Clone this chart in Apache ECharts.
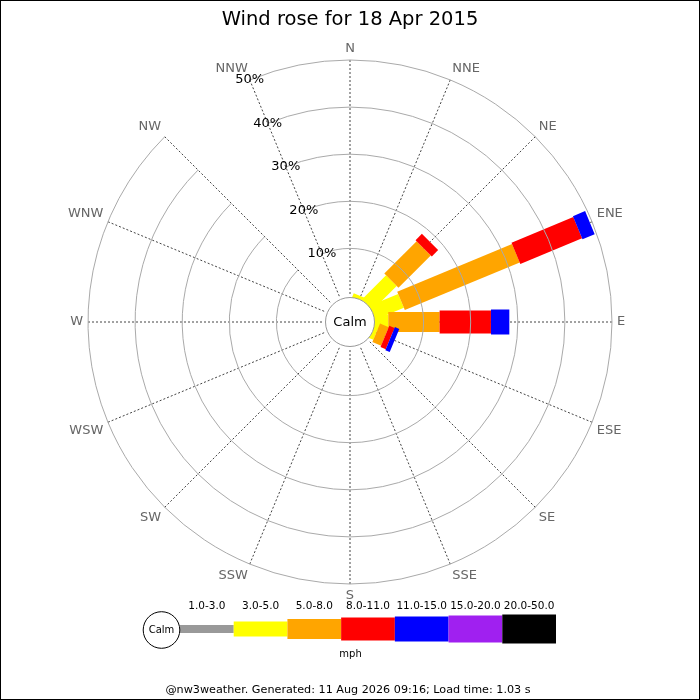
<!DOCTYPE html>
<html><head><meta charset="utf-8">
<script src="https://cdn.jsdelivr.net/npm/echarts@6/dist/echarts.min.js"></script>
<style>
html,body{margin:0;padding:0;background:#fff}
#wrap{position:relative;width:700px;height:700px}
#c{width:700px;height:700px}
#frame{position:absolute;left:0;top:0;width:700px;height:700px;box-sizing:border-box;border:1px solid #000;pointer-events:none}
</style>
</head><body><div id="wrap"><div id="c"></div><div id="frame"></div></div>
<script>
// Directions (compass order, starting at N)
const directions = ['N','NNE','NE','ENE','E','ESE','SE','SSE','S','SSW','SW','WSW','W','WNW','NW','NNW'];
// Speed classes (mph)
const speedClasses = ['1.0-3.0','3.0-5.0','5.0-8.0','8.0-11.0','11.0-15.0','15.0-20.0','20.0-50.0'];
// Percent of time per direction for each speed class
//              N   NNE  NE   ENE   E    ESE  SE SSE S SSW SW WSW W WNW NW NNW
const s1to3   = [0,  0,   0,   0,    0,   0,   0, 0,  0, 0,  0, 0,  0, 0,  0, 0];
const s3to5   = [0,  0.3, 6.8, 6.1,  2.5, 0.4, 0, 0,  0, 0,  0, 0,  0, 0,  0, 0];
const s5to8   = [0,  0,   9.7, 26.4, 10.9,2.0, 0, 0,  0, 0,  0, 0,  0, 0,  0, 0];
const s8to11  = [0,  0,   1.9, 14.2, 10.9,1.2, 0, 0,  0, 0,  0, 0,  0, 0,  0, 0];
const s11to15 = [0,  0,   0,   2.8,  3.9, 1.0, 0, 0,  0, 0,  0, 0,  0, 0,  0, 0];
const s15to20 = [0,  0,   0,   0,    0,   0,   0, 0,  0, 0,  0, 0,  0, 0,  0, 0];
const s20to50 = [0,  0,   0,   0,    0,   0,   0, 0,  0, 0,  0, 0,  0, 0,  0, 0];
// Radial tick values
const radialTicks = [10, 20, 30, 40, 50];

const classSeries = [s1to3, s3to5, s5to8, s8to11, s11to15, s15to20, s20to50];
const classColors = ['#999999','#ffff00','#ffa500','#ff0000','#0000ff','#a020f0','#000000'];
const classWidths = [8, 15, 20, 23, 25, 27, 29];
const FONT = 'DejaVu Sans';

// angle axis starts at NNW so the radial labels run along the NNW spoke
const angleData = [directions[15]].concat(directions.slice(0, 15));
const angleIndexOf = d => (d + 1) % 16;

function roseItem(params, api) {
  const cs = params.coordSys;
  const cx = cs.cx, cy = cs.cy;
  const di = params.dataIndex;
  const ang = angleIndexOf(di);
  const ref = api.coord([50, ang]);
  let ux = ref[0] - cx, uy = ref[1] - cy;
  const L = Math.hypot(ux, uy); ux /= L; uy /= L;
  const nx = -uy, ny = ux;
  const children = [];
  let cum = 0, r0 = 0;
  for (let k = 0; k < classSeries.length; k++) {
    const v = classSeries[k][di];
    if (!v) continue;
    cum += v;
    const p = api.coord([cum, ang]);
    const r1 = Math.hypot(p[0] - cx, p[1] - cy);
    const h = classWidths[k] / 2;
    children.push({
      type: 'polygon',
      shape: { points: [
        [cx + ux * r0 + nx * h, cy + uy * r0 + ny * h],
        [cx + ux * r1 + nx * h, cy + uy * r1 + ny * h],
        [cx + ux * r1 - nx * h, cy + uy * r1 - ny * h],
        [cx + ux * r0 - nx * h, cy + uy * r0 - ny * h]
      ]},
      style: { fill: classColors[k], stroke: null }
    });
    r0 = r1;
  }
  return { type: 'group', children };
}

function calmItem(params, api) {
  const cs = params.coordSys;
  return { type: 'group', children: [
    { type: 'circle', shape: { cx: cs.cx, cy: cs.cy, r: 24.5 },
      style: { fill: '#fff', stroke: '#999', lineWidth: 1 } },
    { type: 'text', x: cs.cx, y: cs.cy + 0.5,
      style: { text: 'Calm', fontSize: 13, fontFamily: FONT, fill: '#000',
               align: 'center', verticalAlign: 'middle' } }
  ]};
}

function legendItem(params, api) {
  const i = params.dataIndex;
  const p = api.coord([i, 0.5]);
  const bw = api.size([1, 0])[0];
  const w = classWidths[i];
  const children = [
    { type: 'rect', shape: { x: p[0] - bw / 2, y: p[1] - w / 2, width: bw, height: w },
      style: { fill: classColors[i] } },
    { type: 'text', x: p[0], y: p[1] - 22.5,
      style: { text: speedClasses[i], fontSize: 10.5, fontFamily: FONT, fill: '#000',
               align: 'center', verticalAlign: 'middle' } }
  ];
  if (i === 0) {
    const ccx = p[0] - bw / 2 - 18.5;
    children.push(
      { type: 'circle', shape: { cx: ccx, cy: p[1] + 1, r: 18.3 },
        style: { fill: '#fff', stroke: '#000', lineWidth: 1 } },
      { type: 'text', x: ccx, y: p[1] + 1,
        style: { text: 'Calm', fontSize: 10, fontFamily: FONT, fill: '#000',
                 align: 'center', verticalAlign: 'middle' } }
    );
  }
  return { type: 'group', children };
}

const chart = echarts.init(document.getElementById('c'), null, { renderer: 'canvas' });
chart.setOption({
  animation: false,
  backgroundColor: '#fff',
  textStyle: { fontFamily: FONT },
  title: {
    text: 'Wind rose for 18 Apr 2015', left: 'center', top: 5,
    textStyle: { fontFamily: FONT, fontSize: 19.5, fontWeight: 'normal', color: '#000' }
  },
  polar: { center: [350, 322], radius: [26.5, 262] },
  angleAxis: {
    type: 'category', data: angleData, boundaryGap: false,
    startAngle: 112.5, clockwise: true,
    axisLine: { show: false },
    axisTick: { show: false },
    axisLabel: { color: '#666', fontSize: 13, fontFamily: FONT, margin: 5 },
    splitLine: { show: true, lineStyle: { color: '#444', width: 1, type: [2, 2] } },
    z: 1
  },
  radiusAxis: {
    type: 'value', min: 0, max: radialTicks[radialTicks.length - 1], interval: 10,
    axisLine: { show: false }, axisTick: { show: false },
    axisLabel: {
      formatter: v => (radialTicks.indexOf(v) >= 0 ? v + '%' : ''),
      color: '#000', fontSize: 13, fontFamily: FONT, margin: 0,
      align: 'center', verticalAlign: 'middle'
    },
    splitLine: { show: true, lineStyle: {
      color: ['rgba(0,0,0,0)', '#aaa', '#aaa', '#aaa', '#aaa', '#aaa'], width: 1 } },
    z: 5
  },
  grid: { left: 180, width: 376, top: 600, height: 58 },
  xAxis: { type: 'category', data: speedClasses, show: false },
  yAxis: { type: 'value', min: 0, max: 1, show: false },
  graphic: [
    { type: 'text', x: 350.5, y: 654, style: { text: 'mph', fontSize: 10, fontFamily: FONT, fill: '#000', align: 'center', verticalAlign: 'middle' } },
    { type: 'text', x: 348, y: 690, style: { text: '@nw3weather. Generated: 11 Aug 2026 09:16; Load time: 1.03 s', fontSize: 11.2, fontFamily: FONT, fill: '#000', align: 'center', verticalAlign: 'middle' } }
  ],
  series: [
    {
      type: 'custom', coordinateSystem: 'polar', polarIndex: 0,
      renderItem: roseItem,
      encode: { radius: 0, angle: 1 },
      data: directions.map((d, i) => [0, angleIndexOf(i)]),
      z: 2, silent: true
    },
    {
      type: 'custom', coordinateSystem: 'polar', polarIndex: 0,
      renderItem: calmItem,
      encode: { radius: 0, angle: 1 },
      data: [[0, 0]],
      z: 3, silent: true
    },
    {
      type: 'custom', coordinateSystem: 'cartesian2d',
      renderItem: legendItem,
      encode: { x: 0, y: 1 },
      data: speedClasses.map((c, i) => [i, 0.5]),
      z: 2, silent: true
    }
  ]
});
</script></body></html>
